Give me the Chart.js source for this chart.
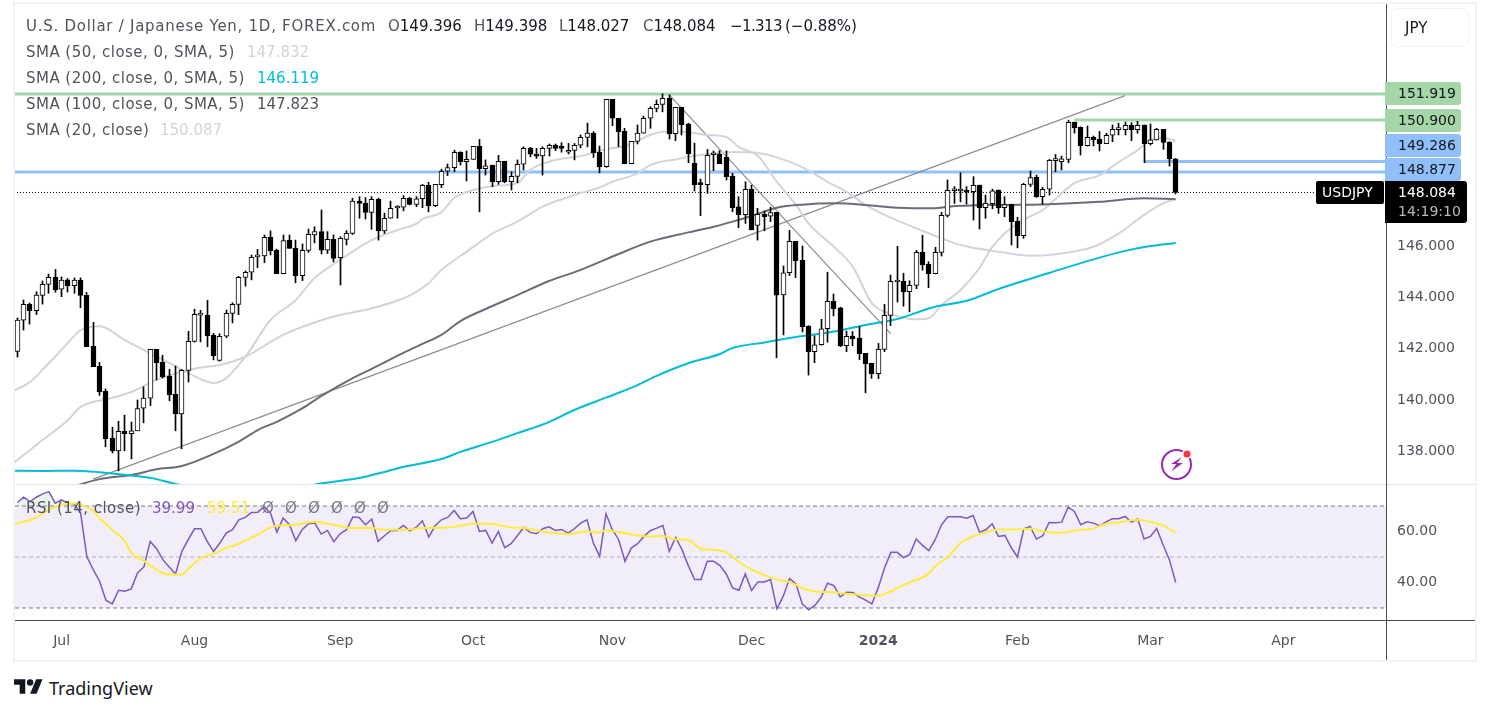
<!DOCTYPE html>
<html>
<head>
<meta charset="utf-8">
<script src="https://cdn.jsdelivr.net/npm/chart.js@4"></script>
<style>
    html, body { margin: 0; padding: 0; background: #fff; width: 1490px; height: 714px; overflow: hidden; }
    body { font-family: 'DejaVu Sans', sans-serif; color: #50535e; }
    .box { position: absolute; }
    .txt { position: absolute; font-size: 15px; line-height: 20px; white-space: pre; z-index: 5; }
    .dark { color: #131722; }
    .wide { letter-spacing: 0.46px; }
</style>
</head>
<body>
<div class="box" style="left:13px;top:2px;width:1460px;height:656px;border:2px solid #f0f3fa;"></div>
<div class="box" style="left:15px;top:484px;width:1460px;height:1px;background:#e0e3eb;"></div>
<div class="box" style="left:15px;top:620px;width:1460px;height:1px;background:#4a4d57;"></div>
<div class="box" style="left:1386px;top:4px;width:1px;height:656px;background:#4a4d57;"></div>
<div class="box" style="left:1391px;top:8px;width:76px;height:37px;border:1px solid #f0f3fa;border-radius:6px;"></div>
<div class="txt dark" style="left:1405px;top:18px;">JPY</div>

<div class="box" style="left:15px;top:5px;width:1459px;height:479px;"><canvas id="price-chart"></canvas></div>
<div class="box" style="left:15px;top:485px;width:1459px;height:175px;"><canvas id="rsi-chart"></canvas></div>

<div class="txt" style="left:26px;top:16px;letter-spacing:0.73px;">U.S. Dollar / Japanese Yen, 1D, FOREX.com</div>
<div class="txt" style="left:388px;top:16px;">O<span class="dark">149.396</span></div>
<div class="txt" style="left:474px;top:16px;">H<span class="dark">149.398</span></div>
<div class="txt" style="left:559px;top:16px;">L<span class="dark">148.027</span></div>
<div class="txt" style="left:643px;top:16px;">C<span class="dark">148.084</span></div>
<div class="txt dark" style="left:730px;top:16px;letter-spacing:-0.6px;">−1.313</div>
<div class="txt dark" style="left:785px;top:16px;">(−0.88%)</div>
<div class="txt wide" style="left:26px;top:42px;">SMA (50, close, 0, SMA, 5)</div>
<div class="txt" style="left:247px;top:42px;color:#d1d4dc;">147.832</div>
<div class="txt wide" style="left:26px;top:68px;">SMA (200, close, 0, SMA, 5)</div>
<div class="txt" style="left:257px;top:68px;color:#00bcd4;">146.119</div>
<div class="txt wide" style="left:26px;top:94px;">SMA (100, close, 0, SMA, 5)</div>
<div class="txt" style="left:257px;top:94px;">147.823</div>
<div class="txt wide" style="left:26px;top:120px;">SMA (20, close)</div>
<div class="txt" style="left:160px;top:120px;color:#d1d4dc;">150.087</div>
<div class="txt wide" style="left:26px;top:498px;">RSI (14, close)</div>
<div class="txt" style="left:152px;top:498px;color:#7e57c2;">39.99</div>
<div class="txt" style="left:207px;top:498px;color:#ffeb3b;">59.51</div>
<div class="txt" style="left:262px;top:498px;color:#787b86;">Ø</div>
<div class="txt" style="left:285px;top:498px;color:#787b86;">Ø</div>
<div class="txt" style="left:308px;top:498px;color:#787b86;">Ø</div>
<div class="txt" style="left:331px;top:498px;color:#787b86;">Ø</div>
<div class="txt" style="left:354px;top:498px;color:#787b86;">Ø</div>
<div class="txt" style="left:377px;top:498px;color:#787b86;">Ø</div>

<svg class="box" style="left:1158px;top:446px;z-index:5;" width="38" height="38" viewBox="0 0 38 38">
    <circle cx="18.5" cy="18.5" r="14.5" fill="none" stroke="#9c27b0" stroke-width="2"/>
    <path d="M24 11 L13 18 L18.5 18 L13 25.5 L25 17 L19 17 Z" fill="#9c27b0"/>
    <circle cx="29" cy="8" r="5" fill="#fff"/>
    <circle cx="29" cy="8" r="3.6" fill="#f23645"/>
</svg>
<svg class="box" style="left:14px;top:676px;" width="29" height="22.5" viewBox="0 0 36 28">
    <path d="M14 22H7V11H0V4h14v18zM28 22h-8l7.5-18h8L28 22z" fill="#131722"/>
    <circle cx="20" cy="8" r="4" fill="#131722"/>
</svg>
<div class="txt dark" style="left:49px;top:678px;font-size:18px;font-family:'Noto Sans',sans-serif;">TradingView</div>

<script>
// daily candles, 22 Jun 2023 to 7 Mar 2024
const openPrices = [
    141.90,143.11,143.73,143.48,144.08,144.51,144.78,144.32,144.68,144.46,
    144.67,144.08,142.10,141.32,140.35,138.52,138.03,138.79,138.70,138.81,
    139.69,140.08,141.98,141.47,140.94,140.23,139.47,141.16,142.29,143.31,
    143.30,142.52,141.55,142.49,143.38,143.73,144.78,144.98,145.58,145.61,
    146.34,145.84,144.92,146.23,145.91,144.85,145.83,146.43,146.56,145.84,
    146.26,145.55,146.26,146.49,147.75,147.66,147.31,147.82,146.59,147.08,
    147.48,147.51,147.86,147.62,147.84,148.36,147.57,148.39,148.91,149.05,
    149.65,149.28,149.37,149.88,149.01,149.14,148.50,149.30,148.50,148.71,
    149.18,149.80,149.57,149.51,149.80,149.92,149.84,149.65,149.72,149.92,
    150.23,150.39,149.65,149.09,151.71,150.97,150.46,149.20,150.07,150.39,
    150.97,151.35,151.51,151.75,150.37,151.40,150.74,149.22,148.41,148.39,
    149.55,149.58,149.45,148.72,147.52,147.22,148.21,146.80,147.23,147.16,
    147.31,144.10,144.96,146.18,145.44,142.88,141.89,142.16,142.78,143.85,
    143.59,142.12,142.50,142.42,141.82,141.44,141.03,141.98,143.30,144.60,
    144.63,144.22,144.47,145.75,145.29,144.92,145.75,147.19,148.15,148.14,
    148.17,148.11,148.37,147.49,147.65,148.18,147.49,147.62,146.96,146.40,
    148.40,148.67,147.92,148.21,149.32,149.28,149.37,150.82,150.62,149.90,
    150.23,150.15,149.98,150.31,150.53,150.53,150.71,150.53,150.71,149.98,
    150.13,150.54,150.03,149.396
];
const highPrices = [
    143.20,143.90,143.78,144.22,144.64,144.91,145.09,144.80,144.74,144.76,
    144.76,144.20,143.03,141.47,140.44,138.95,139.18,139.42,139.15,140.01,
    140.52,141.98,141.98,141.75,141.20,141.33,141.20,142.68,143.54,143.50,
    143.89,142.60,142.59,143.51,143.79,144.82,145.03,145.65,145.87,146.43,
    146.59,145.88,146.43,146.43,146.23,146.08,146.66,146.75,147.40,146.56,
    146.43,146.36,146.60,147.86,147.92,147.89,147.92,147.86,147.28,147.75,
    147.57,147.96,147.89,147.92,148.40,148.48,148.40,148.99,149.19,149.73,
    149.67,149.70,149.88,150.15,149.35,149.15,149.53,149.30,148.89,149.35,
    149.86,149.84,149.80,149.86,149.97,149.97,150.02,149.99,149.99,150.32,
    150.78,150.45,149.89,151.71,151.71,150.97,150.58,150.07,150.71,151.06,
    151.42,151.68,151.92,151.88,151.40,151.40,150.78,150.00,148.61,149.76,
    149.70,149.71,149.70,148.83,147.92,148.50,148.37,147.47,147.36,147.51,
    147.31,145.22,146.61,146.18,146.00,142.90,142.51,143.15,144.98,144.13,
    143.62,142.69,142.67,142.87,141.82,141.44,142.21,143.73,144.87,145.99,
    144.94,144.65,145.83,146.42,145.39,145.95,147.31,148.57,148.31,148.85,
    148.31,148.70,148.37,147.98,148.21,148.18,147.92,147.62,147.12,148.44,
    148.92,148.76,148.29,149.37,149.56,149.50,150.90,150.82,150.64,150.67,
    150.28,150.46,150.39,150.71,150.78,150.82,150.80,150.85,150.71,150.75,
    150.58,150.54,150.06,149.398
];
const lowPrices = [
    141.68,142.73,142.96,143.33,143.74,144.16,144.20,144.03,144.21,144.16,
    143.60,142.08,141.31,140.19,138.19,137.95,137.25,138.03,137.72,138.81,
    139.12,139.79,140.79,140.86,139.98,138.81,138.11,140.71,142.26,142.27,
    142.08,141.57,141.52,142.43,143.01,143.33,144.44,144.68,145.16,145.35,
    145.65,144.92,144.92,145.91,144.57,144.65,145.75,146.12,145.69,145.71,
    145.38,144.48,146.04,146.45,147.08,147.05,146.65,146.23,146.49,147.08,
    147.08,147.37,147.60,147.53,147.49,147.33,147.53,148.27,148.74,148.89,
    149.15,148.53,149.37,147.33,148.76,148.31,148.40,148.46,148.18,148.46,
    148.96,149.47,149.41,148.76,149.50,149.71,149.65,149.58,149.35,149.82,
    149.86,149.45,148.85,149.06,150.68,149.86,149.20,149.20,149.97,150.39,
    150.58,151.22,151.22,150.16,150.10,150.32,149.24,148.14,147.18,148.05,
    148.93,149.20,148.57,147.33,146.71,146.88,146.63,146.23,146.59,146.95,
    141.65,142.54,144.85,144.77,142.66,140.98,141.46,142.14,142.26,143.28,
    142.08,141.89,142.12,141.58,140.29,140.85,140.84,141.89,142.90,143.82,
    143.66,143.44,144.34,145.06,144.38,144.92,145.61,147.13,147.66,147.72,
    147.63,147.01,146.66,147.08,147.45,147.27,147.14,146.04,145.93,146.30,
    148.31,147.89,147.63,147.98,148.89,148.96,149.24,150.39,149.54,149.89,
    149.89,149.70,149.98,150.06,150.32,150.32,150.10,150.39,149.24,149.93,
    150.12,149.76,149.11,148.027
];
const closePrices = [
    143.12,143.73,143.48,144.09,144.51,144.78,144.29,144.67,144.46,144.67,
    144.08,142.08,141.31,140.32,138.50,138.03,138.79,138.70,138.81,139.67,
    140.08,141.98,141.46,140.91,140.21,139.47,141.16,142.29,143.34,143.34,
    142.51,141.73,142.49,143.38,143.73,144.78,144.98,145.56,145.61,146.34,
    145.81,144.92,146.21,145.91,144.85,145.83,146.45,146.56,145.84,146.26,
    145.52,146.30,146.49,147.75,147.66,147.31,147.82,146.59,147.08,147.47,
    147.52,147.86,147.62,147.84,148.36,147.57,148.40,148.91,149.05,149.65,
    149.28,149.37,149.88,149.01,149.12,148.50,149.30,148.50,148.71,149.18,
    149.80,149.57,149.50,149.80,149.92,149.80,149.80,149.72,149.92,150.23,
    150.39,149.63,149.09,151.71,150.97,150.45,149.20,150.07,150.39,150.97,
    151.36,151.51,151.75,150.36,151.40,150.72,149.59,148.39,148.39,149.53,
    149.58,149.20,148.70,147.49,147.22,148.21,146.63,147.23,147.14,147.30,
    144.09,144.96,146.18,145.43,142.86,141.89,142.16,142.78,143.85,143.56,
    142.11,142.49,142.39,141.81,141.42,141.03,141.98,143.30,144.63,144.63,
    144.21,144.47,145.75,145.26,144.92,145.75,147.19,148.17,148.18,148.17,
    148.10,148.36,147.49,147.66,148.15,147.49,147.61,146.95,146.40,148.40,
    148.66,147.92,148.21,149.33,149.35,149.39,150.81,150.60,149.90,150.23,
    150.13,149.98,150.31,150.54,150.55,150.70,150.53,150.70,149.98,150.13,
    150.54,150.03,149.39,148.084
];

const sma20Days = [-1,2,5,8,10,13,17,20,24,27,31,33,36,40,44,47,51,56,60,63,64,67,69,71,75,79,81,85,89,93,96,100,102,105,109,112,114,117,120,123,125,129,132,135,138,142,144,146,149,152,154,158,162,167,171,174,177,179,181,183];
const sma20Values = [140.32,140.71,141.45,142.23,142.73,142.88,142.34,141.95,141.45,141.06,140.67,140.86,141.68,143.12,143.90,144.76,145.46,146.23,146.62,146.86,147.05,147.32,147.87,148.10,148.33,148.45,148.96,149.35,149.50,149.77,149.89,150.32,150.45,150.45,150.32,150.24,149.85,149.50,148.50,147.60,146.88,145.97,145.19,143.78,143.36,143.15,143.19,143.70,144.29,145.14,145.96,146.89,147.40,148.45,148.76,149.27,149.73,150.12,150.21,150.087];
const sma50Days = [-1,4,8,10,15,18,22,26,29,32,36,42,49,56,60,63,65,67,71,75,79,83,86,89,92,94,98,100,104,109,113,117,120,124,128,131,134,137,142,146,149,155,160,164,170,174,178,181,183];
const sma50Values = [137.48,138.45,139.23,139.74,140.09,140.32,140.79,141.11,141.27,141.37,141.69,142.54,143.19,143.58,143.87,144.21,144.56,145.07,145.78,146.47,146.95,147.53,147.82,148.06,148.28,148.50,148.83,149.15,149.37,149.58,149.66,149.62,149.45,149.07,148.50,148.11,147.60,147.21,146.69,146.30,146.04,145.78,145.62,145.68,145.97,146.49,147.21,147.66,147.832];
const sma100Days = [9,13,18,22,26,31,35,38,41,45,48,53,56,61,64,67,70,74,79,84,89,95,100,106,110,113,116,120,124,129,134,139,145,147,155,162,171,178,183];
const sma100Values = [136.66,136.93,137.09,137.31,137.44,137.91,138.39,138.84,139.16,139.68,140.16,140.86,141.22,141.84,142.19,142.54,143.08,143.55,144.09,144.64,145.07,145.69,146.17,146.53,146.75,146.95,147.17,147.49,147.61,147.66,147.60,147.49,147.47,147.53,147.60,147.62,147.72,147.86,147.823];
const sma200Days = [-1,4,9,13,18,22,25,33,43,48,54,58,61,67,70,75,79,84,88,93,98,101,106,111,113,118,123,129,134,139,145,150,155,163,170,175,179,183];
const sma200Values = [137.26,137.25,137.26,137.20,137.07,136.93,136.74,136.50,136.54,136.76,136.97,137.21,137.41,137.71,137.99,138.38,138.72,139.15,139.62,140.10,140.59,140.95,141.44,141.80,142.03,142.25,142.46,142.67,142.93,143.16,143.64,143.87,144.33,144.95,145.48,145.81,146.00,146.119];

// drawn levels and trend lines
const supportLevels = [148.877, 149.286];
const resistanceLevels = [151.919, 150.900];
const levelStartDays = [-1, 178, -1, 167];
const lastPrice = 148.084;
const riseDays = [12, 175];
const riseValues = [136.93, 151.85];
const fallDays = [103, 138];
const fallValues = [151.88, 142.58];

const priceTicks = [138, 140, 142, 144, 146];
const monthDays = [7, 28, 51, 72, 94, 116, 136, 158, 179, 200];
const monthLabels = ['Jul', 'Aug', 'Sep', 'Oct', 'Nov', 'Dec', '2024', 'Feb', 'Mar', 'Apr'];

const rsiValues = [
    71.37,73.45,71.76,73.45,74.76,75.67,71.11,72.41,71.11,70.85,
    67.20,50.00,45.05,40.49,33.06,31.63,36.97,36.58,37.49,43.75,
    46.09,56.12,53.26,48.96,46.09,43.36,52.20,56.78,61.08,61.08,
    56.12,52.20,55.47,59.38,60.69,64.59,65.51,67.46,67.59,69.81,
    67.20,59.77,65.25,62.64,56.39,60.69,63.03,63.29,58.99,60.42,
    55.99,59.12,60.69,65.64,65.51,62.64,64.85,56.12,58.34,60.29,
    60.42,62.38,60.29,61.60,64.20,57.82,62.25,64.59,65.51,68.24,
    64.98,65.25,67.85,60.03,60.42,55.47,60.03,53.65,55.21,58.34,
    61.60,59.64,59.12,61.08,61.86,60.42,60.81,59.38,61.08,63.29,
    64.59,55.47,50.26,66.94,60.69,56.78,48.31,53.52,55.21,58.08,
    60.29,61.34,62.38,52.20,57.69,52.87,46.61,41.14,41.14,48.31,
    48.31,46.61,43.36,37.88,36.97,43.36,36.84,40.23,40.23,41.14,
    29.67,34.63,41.53,39.45,31.63,29.28,30.98,34.23,39.71,38.79,
    34.36,36.19,36.06,34.36,33.06,31.63,37.88,45.70,51.82,51.82,
    49.74,51.04,57.04,54.56,52.48,56.78,62.64,65.77,65.77,65.77,
    65.25,66.29,59.77,60.69,63.03,58.08,58.47,53.78,50.00,61.08,
    61.99,57.04,58.34,63.55,63.42,63.68,69.55,67.85,62.64,63.81,
    63.29,62.25,63.81,64.98,64.98,65.90,63.68,64.98,57.04,58.08,
    61.21,54.82,48.96,39.99
];
const rsiMaDays = [-1,3,5,7,9,10,12,13,15,17,18,20,21,24,26,27,29,31,33,35,36,38,40,41,44,46,47,50,53,56,58,61,64,68,70,72,75,78,80,83,87,90,92,93,95,98,100,102,104,106,108,110,112,114,116,120,122,124,126,129,131,134,136,138,141,144,145,147,149,151,153,155,158,160,162,165,167,170,172,174,177,179,181,183];
const rsiMaValues = [62.50,65.50,68.50,70.46,71.10,70.46,68.24,65.25,60.69,56.12,51.56,48.57,46.61,43.09,43.09,45.31,49.61,51.30,53.52,55.21,56.52,58.73,61.60,62.25,62.64,63.55,63.81,62.64,61.34,61.34,60.69,60.69,61.34,61.60,62.12,63.16,62.90,61.60,61.34,60.03,58.99,60.03,59.64,60.42,59.77,58.47,58.08,58.21,56.91,56.65,53.26,52.87,51.82,48.05,45.05,41.14,40.23,37.88,36.45,36.19,35.54,35.02,34.76,36.58,40.10,43.49,46.35,50.00,55.47,58.08,59.64,60.81,60.81,61.08,60.03,59.51,60.42,61.21,63.03,63.55,64.59,63.81,62.38,59.51];
const rsiLevels = [70, 50, 30];
const rsiTicks = [40, 60];

const xMin = -0.363;
const xMax = 216.22;
const fontName = "'DejaVu Sans', sans-serif";

const candleDays = closePrices.map((c, i) => i);
const toPoints = (days, values) => days.map((d, i) => ({x: d, y: values[i]}));

function smaDataset(days, values, color) {
    return {
        type: 'line',
        data: toPoints(days, values),
        borderColor: color,
        borderWidth: 2,
        pointRadius: 0,
        cubicInterpolationMode: 'monotone',
        order: 5
    };
}
function straightLine(points, color, width, dash) {
    return {
        type: 'line',
        data: points,
        borderColor: color,
        borderWidth: width,
        borderDash: dash || [],
        pointRadius: 0,
        order: 6
    };
}
const xAxisBase = {
    type: 'linear',
    min: xMin,
    max: xMax,
    offset: false,
    grid: {display: false},
    border: {display: false}
};
// axis keeps its fixed width and does not pad the plot for its labels
function fixAxisWidth(scale) {
    scale.width = 88;
    scale.paddingTop = 0;
    scale.paddingBottom = 0;
}

/* candles sit on whole pixels so wicks stay sharp */
const snapCandles = {
    id: 'snapCandles',
    beforeDatasetsDraw(chart) {
        [0, 1].forEach(n => {
            chart.getDatasetMeta(n).data.forEach(bar => { bar.x = Math.floor(bar.x) + 0.5; });
        });
    }
};

/* value tags on the price axis */
const axisTags = {
    id: 'axisTags',
    afterDraw(chart) {
        const ctx = chart.ctx;
        const tags = [
            {text: resistanceLevels[0].toFixed(3), top: 77, color: '#a5d6a7'},
            {text: resistanceLevels[1].toFixed(3), top: 104, color: '#a5d6a7'},
            {text: supportLevels[1].toFixed(3), top: 129, color: '#90bff9'},
            {text: supportLevels[0].toFixed(3), top: 153, color: '#90bff9'}
        ];
        ctx.save();
        ctx.font = '14px ' + fontName;
        ctx.textBaseline = 'middle';
        tags.forEach(tag => {
            ctx.fillStyle = tag.color;
            ctx.beginPath();
            ctx.roundRect(1370, tag.top, 76, 23, [0, 3, 3, 0]);
            ctx.fill();
            ctx.fillStyle = '#131722';
            ctx.fillText(tag.text, 1383, tag.top + 12);
        });
        ctx.fillStyle = '#000';
        ctx.beginPath();
        ctx.roundRect(1370, 176, 82, 42, [0, 3, 3, 0]);
        ctx.fill();
        ctx.beginPath();
        ctx.roundRect(1301, 176, 68, 23, 2);
        ctx.fill();
        ctx.fillStyle = '#fff';
        ctx.fillText(lastPrice.toFixed(3), 1383, 188);
        ctx.fillText('USDJPY', 1307, 188);
        ctx.fillStyle = '#b8b8b8';
        ctx.fillText('14:19:10', 1383, 207);
        ctx.restore();
    }
};

const priceCtx = document.getElementById('price-chart').getContext('2d');
const priceChart = new Chart(priceCtx, {
    type: 'bar',
    data: {
        datasets: [
            {
                data: candleDays.map(i => ({x: i, y: [lowPrices[i], highPrices[i]]})),
                backgroundColor: '#000',
                barThickness: 1,
                grouped: false,
                order: 2
            },
            {
                data: candleDays.map(i => ({x: i, y: [openPrices[i], closePrices[i]]})),
                backgroundColor: candleDays.map(i => closePrices[i] >= openPrices[i] ? '#fff' : '#000'),
                borderColor: '#000',
                borderWidth: 1,
                borderSkipped: false,
                barThickness: 5,
                minBarLength: 2,
                grouped: false,
                order: 1
            },
            smaDataset(sma200Days, sma200Values, '#00bcd4'),
            smaDataset(sma100Days, sma100Values, '#6a6d78'),
            smaDataset(sma50Days, sma50Values, '#d1d4dc'),
            smaDataset(sma20Days, sma20Values, '#d1d4dc'),
            straightLine(toPoints(riseDays, riseValues), '#8a8d96', 1.2),
            straightLine(toPoints(fallDays, fallValues), '#8a8d96', 1.2),
            straightLine([{x: levelStartDays[0], y: supportLevels[0]}, {x: xMax, y: supportLevels[0]}], '#90bff9', 3),
            straightLine([{x: levelStartDays[1], y: supportLevels[1]}, {x: xMax, y: supportLevels[1]}], '#90bff9', 3),
            straightLine([{x: levelStartDays[2], y: resistanceLevels[0]}, {x: xMax, y: resistanceLevels[0]}], '#a5d6a7', 3),
            straightLine([{x: levelStartDays[3], y: resistanceLevels[1]}, {x: xMax, y: resistanceLevels[1]}], '#a5d6a7', 3),
            straightLine([{x: -1, y: lastPrice}, {x: 205, y: lastPrice}], '#000', 1, [1, 2])
        ]
    },
    plugins: [snapCandles, axisTags],
    options: {
        responsive: true,
        maintainAspectRatio: false,
        animation: false,
        events: [],
        layout: {padding: 0},
        plugins: {legend: {display: false}, tooltip: {enabled: false}},
        scales: {
            x: Object.assign({}, xAxisBase, {display: false}),
            y: {
                position: 'right',
                min: 136.74,
                max: 155.378,
                afterFit: fixAxisWidth,
                afterBuildTicks: scale => { scale.ticks = priceTicks.map(v => ({value: v})); },
                grid: {display: false, drawTicks: false},
                border: {display: false},
                ticks: {
                    padding: 11,
                    color: '#50535e',
                    font: {family: fontName, size: 14},
                    callback: value => value.toFixed(3)
                }
            }
        }
    }
});

const rsiCtx = document.getElementById('rsi-chart').getContext('2d');
const rsiChart = new Chart(rsiCtx, {
    type: 'line',
    data: {
        datasets: [
            {
                data: candleDays.map(i => ({x: i, y: rsiValues[i]})),
                borderColor: '#7e57c2',
                borderWidth: 1.5,
                pointRadius: 0,
                fill: {target: {value: rsiLevels[0]}, above: 'rgba(76, 175, 80, 0.12)', below: 'rgba(0, 0, 0, 0)'},
                order: 2
            },
            {
                data: toPoints(rsiMaDays, rsiMaValues),
                borderColor: '#ffeb3b',
                borderWidth: 2,
                pointRadius: 0,
                cubicInterpolationMode: 'monotone',
                order: 1
            },
            {
                data: [{x: xMin, y: rsiLevels[0]}, {x: xMax, y: rsiLevels[0]}],
                borderColor: '#787b86',
                borderWidth: 1,
                borderDash: [4, 3],
                pointRadius: 0,
                fill: {target: 3},
                backgroundColor: 'rgba(126, 87, 194, 0.1)',
                order: 4
            },
            {
                data: [{x: xMin, y: rsiLevels[2]}, {x: xMax, y: rsiLevels[2]}],
                borderColor: '#787b86',
                borderWidth: 1,
                borderDash: [4, 3],
                pointRadius: 0,
                order: 4
            },
            {
                data: [{x: xMin, y: rsiLevels[1]}, {x: xMax, y: rsiLevels[1]}],
                borderColor: 'rgba(120, 123, 134, 0.55)',
                borderWidth: 1,
                borderDash: [4, 3],
                pointRadius: 0,
                order: 3
            }
        ]
    },
    options: {
        responsive: true,
        maintainAspectRatio: false,
        animation: false,
        events: [],
        layout: {padding: 0},
        plugins: {legend: {display: false}, tooltip: {enabled: false}},
        scales: {
            x: Object.assign({}, xAxisBase, {
                afterFit: scale => { scale.height = 40; },
                afterBuildTicks: scale => { scale.ticks = monthDays.map(v => ({value: v})); },
                grid: {display: false, drawTicks: false},
                ticks: {
                    autoSkip: false,
                    maxRotation: 0,
                    padding: 13,
                    color: '#50535e',
                    font: ctx => ({family: fontName, size: 14, weight: ctx.tick && ctx.tick.value === 136 ? 'bold' : 'normal'}),
                    callback: value => monthLabels[monthDays.indexOf(value)]
                }
            }),
            y: {
                position: 'right',
                min: 25.29,
                max: 78.24,
                afterFit: fixAxisWidth,
                afterBuildTicks: scale => { scale.ticks = rsiTicks.map(v => ({value: v})); },
                grid: {display: false, drawTicks: false},
                border: {display: false},
                ticks: {
                    padding: 11,
                    color: '#50535e',
                    font: {family: fontName, size: 14},
                    callback: value => value.toFixed(2)
                }
            }
        }
    }
});
</script>
</body>
</html>
